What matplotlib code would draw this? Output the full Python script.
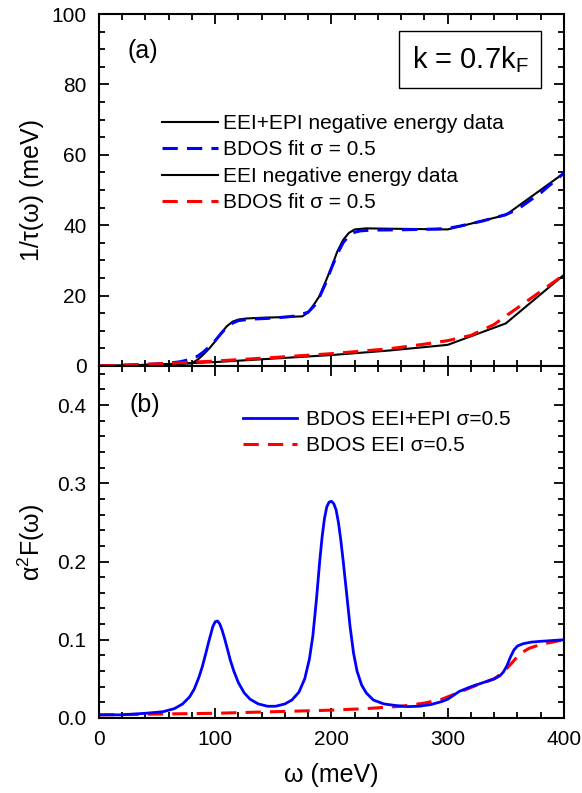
import numpy as np
import matplotlib
matplotlib.use("Agg")
import matplotlib.pyplot as plt
from matplotlib.ticker import MultipleLocator, FormatStrFormatter

plt.rcParams['font.family'] = ['Liberation Sans', 'DejaVu Sans']
plt.rcParams['mathtext.fontset'] = 'custom'
plt.rcParams['mathtext.rm'] = 'Liberation Sans'
plt.rcParams['mathtext.it'] = 'Liberation Sans'

# (a) scattering rate 1/tau(omega), meV
w_epi = [0, 20, 40, 60, 70, 80, 85, 90, 95, 100, 105, 110, 115, 120, 127, 140, 160, 175,
         180, 185, 190, 195, 200, 205, 210, 215, 220, 230, 250, 275, 300, 350, 400]
tau_epi = [0.0, 0.1, 0.3, 0.5, 0.6, 0.8, 1.8, 3.3, 5.0, 7.0, 9.3, 11.3, 12.6, 13.2, 13.5,
           13.7, 13.9, 14.1, 15.2, 17.5, 20.0, 24.0, 28.0, 32.5, 35.8, 37.8, 38.8, 39.1,
           39.0, 38.9, 38.8, 42.9, 54.8]

w_fit_epi = [0, 20, 40, 60, 70, 80, 85, 90, 95, 100, 105, 110, 115, 120, 130, 150, 170,
             180, 185, 190, 195, 200, 205, 210, 215, 220, 225, 235, 260, 290, 300, 310,
             330, 350, 360, 380, 400]
tau_fit_epi = [0.0, 0.2, 0.4, 0.8, 1.2, 2.0, 2.8, 4.0, 5.5, 7.2, 9.2, 11.0, 12.2, 12.9,
               13.3, 13.6, 14.2, 15.3, 17.0, 19.8, 23.5, 27.8, 31.8, 35.0, 37.0, 38.0,
               38.4, 38.6, 38.7, 38.9, 39.1, 39.7, 41.2, 43.0, 44.5, 49.2, 54.8]

w_eei = [0, 50, 100, 150, 200, 250, 300, 350, 400]
tau_eei = [0.0, 0.4, 1.1, 2.1, 3.1, 4.4, 6.0, 12.1, 25.9]

w_fit_eei = [0, 50, 100, 150, 200, 250, 280, 300, 320, 340, 350, 360, 380, 400]
tau_fit_eei = [0.0, 0.6, 1.4, 2.4, 3.5, 4.9, 6.2, 7.2, 8.7, 11.8, 14.2, 16.5, 21.2, 25.9]

# (b) bosonic spectral functions alpha^2 F(omega)
w_b_epi = [0, 20, 40, 55, 65, 72, 78, 82, 86, 89, 92, 94, 96, 98, 100, 102, 104, 106, 108,
           110, 113, 116, 120, 125, 130, 137, 145, 152, 160, 166, 172, 177, 181, 184, 187,
           190, 192, 194, 196, 198, 200, 202, 204, 206, 208, 210, 213, 216, 219, 222, 226,
           230, 236, 245, 255, 265, 275, 285, 295, 300, 305, 310, 320, 330, 340, 345, 348,
           351, 354, 357, 360, 365, 372, 380, 390, 400]
a2f_epi = [0.004, 0.004, 0.006, 0.008, 0.012, 0.018, 0.027, 0.037, 0.052, 0.066, 0.083,
           0.095, 0.106, 0.117, 0.123, 0.124, 0.120, 0.112, 0.102, 0.091, 0.074, 0.060,
           0.045, 0.032, 0.024, 0.018, 0.015, 0.015, 0.018, 0.023, 0.033, 0.050, 0.075,
           0.105, 0.150, 0.202, 0.232, 0.255, 0.270, 0.276, 0.277, 0.274, 0.266, 0.250,
           0.228, 0.202, 0.160, 0.117, 0.083, 0.060, 0.042, 0.032, 0.023, 0.018, 0.016,
           0.0145, 0.015, 0.017, 0.021, 0.024, 0.029, 0.034, 0.040, 0.045, 0.050, 0.054,
           0.059, 0.067, 0.078, 0.087, 0.092, 0.095, 0.097, 0.098, 0.099, 0.100]

w_b_eei = [0, 50, 100, 150, 200, 230, 260, 280, 295, 310, 325, 340, 348, 355, 362, 370,
           380, 390, 400]
a2f_eei = [0.004, 0.005, 0.006, 0.008, 0.010, 0.012, 0.015, 0.019, 0.024, 0.033, 0.042,
           0.050, 0.059, 0.070, 0.082, 0.089, 0.094, 0.097, 0.100]

blue = '#0000ff'
red = '#ff0000'
dash = (0, (5, 3))

fig = plt.figure(figsize=(5.82, 7.93), dpi=100)
ax1 = fig.add_axes([0.170, 0.5385, 0.799, 0.4438])
ax2 = fig.add_axes([0.170, 0.0946, 0.799, 0.4439])

ax1.plot(w_epi, tau_epi, color='black', lw=1.5, label='EEI+EPI negative energy data')
ax1.plot(w_fit_epi, tau_fit_epi, color=blue, lw=2.2, linestyle=dash,
         label='BDOS fit σ = 0.5')
ax1.plot(w_eei, tau_eei, color='black', lw=1.5, label='EEI negative energy data')
ax1.plot(w_fit_eei, tau_fit_eei, color=red, lw=2.2, linestyle=dash,
         label='BDOS fit σ = 0.5')

l_eei, = ax2.plot(w_b_eei, a2f_eei, color=red, lw=2.2, linestyle=dash,
                  label='BDOS EEI σ=0.5')
l_epi, = ax2.plot(w_b_epi, a2f_epi, color=blue, lw=2.0, label='BDOS EEI+EPI σ=0.5')

ax1.set_xlim(0, 400)
ax1.set_ylim(0, 100)
ax2.set_xlim(0, 400)
ax2.set_ylim(0, 0.45)

ax1.yaxis.set_major_locator(MultipleLocator(20))
ax1.yaxis.set_minor_locator(MultipleLocator(5))
ax2.yaxis.set_major_locator(MultipleLocator(0.1))
ax2.yaxis.set_minor_locator(MultipleLocator(0.02))
ax2.yaxis.set_major_formatter(FormatStrFormatter('%.1f'))
for ax in (ax1, ax2):
    ax.xaxis.set_major_locator(MultipleLocator(100))
    ax.xaxis.set_minor_locator(MultipleLocator(20))
    ax.tick_params(which='both', direction='in', top=True, right=True, width=1.3,
                   labelsize=15)
    ax.tick_params(which='major', length=7, pad=9)
    ax.tick_params(which='minor', length=4)
    for s in ax.spines.values():
        s.set_linewidth(1.5)
ax1.tick_params(labelbottom=False)

ax1.set_ylabel('1/τ(ω) (meV)', fontsize=18, labelpad=5)
ax2.set_ylabel(r'α$^{2}$F(ω)', fontsize=18, labelpad=7)
ax2.set_xlabel('ω (meV)', fontsize=18, labelpad=10)

ax1.text(0.062, 0.895, '(a)', transform=ax1.transAxes, fontsize=18, va='center')
ax2.text(0.066, 0.889, '(b)', transform=ax2.transAxes, fontsize=18, va='center')
ax1.text(0.798, 0.87, r'k = 0.7k$_\mathrm{F}$', transform=ax1.transAxes, fontsize=21,
         ha='center', va='center',
         bbox=dict(boxstyle='square,pad=0.45', fc='white', ec='black', lw=1.0))

ax1.legend(loc='upper left', bbox_to_anchor=(0.135, 0.716), frameon=False,
           fontsize=15, handlelength=2.7, handletextpad=0.25, labelspacing=0.36,
           borderpad=0, borderaxespad=0)
ax2.legend(handles=[l_epi, l_eei], loc='upper left', bbox_to_anchor=(0.31, 0.875),
           frameon=False, fontsize=15, handlelength=2.6, handletextpad=0.4,
           labelspacing=0.36, borderpad=0, borderaxespad=0)

fig.savefig('out.png', dpi=100)
